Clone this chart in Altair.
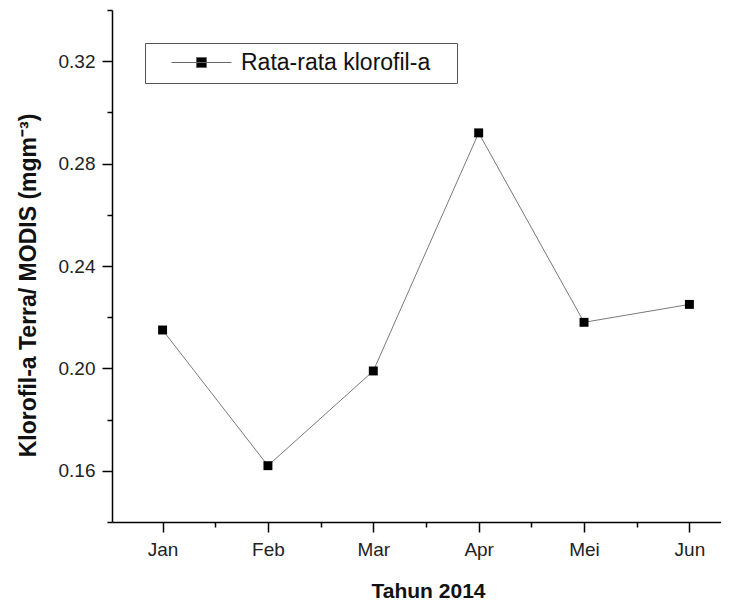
import altair as alt
import pandas as pd

months = ["Jan", "Feb", "Mar", "Apr", "Mei", "Jun"]
month_index = [1, 2, 3, 4, 5, 6]
klorofil = [0.215, 0.162, 0.199, 0.292, 0.218, 0.225]
series_name = "Rata-rata klorofil-a"
y_ticks = [0.14, 0.16, 0.18, 0.20, 0.22, 0.24, 0.26, 0.28, 0.30, 0.32, 0.34]
x_ticks = [0.5, 1, 1.5, 2, 2.5, 3, 3.5, 4, 4.5, 5, 5.5, 6]

df = pd.DataFrame({
    "idx": month_index,
    "bulan": months,
    "klorofil": klorofil,
    "seri": [series_name] * len(months),
})

month_arr = "[" + ",".join("'" + m + "'" for m in months) + "]"
x_label_expr = f"datum.value % 1 === 0 ? {month_arr}[datum.value - 1] : ''"
y_major = "round(datum.value * 100) % 4 === 0"
y_label_expr = f"{y_major} ? format(datum.value, '.2f') : ''"

FONT = "Liberation Sans"

x_enc = alt.X(
    "idx:Q",
    scale=alt.Scale(domain=[0.52, 6.3], nice=False, zero=False),
    axis=alt.Axis(
        title="Tahun 2014",
        values=x_ticks,
        labelExpr=x_label_expr,
        tickSize={"condition": {"test": "datum.value % 1 === 0", "value": 10}, "value": 5},
        labelPadding=8,
        titleX=316,
        titleY=75,
        titleBaseline="alphabetic",
        titleFontSize=21,
        labelFlush=False,
    ),
)
y_enc = alt.Y(
    "klorofil:Q",
    scale=alt.Scale(domain=[0.14, 0.34], nice=False, zero=False),
    axis=alt.Axis(
        title="Klorofil-a Terra/ MODIS (mgm⁻³)",
        values=y_ticks,
        labelExpr=y_label_expr,
        tickSize={"condition": {"test": y_major, "value": 10}, "value": 5},
        labelPadding=7,
        titleX=-77,
        titleY=275,
        titleBaseline="alphabetic",
        titleFontSize=23,
        labelFlush=False,
    ),
)

line = alt.Chart(df).mark_line(color="#7a7a7a", strokeWidth=1).encode(x=x_enc, y=y_enc)

points = alt.Chart(df).mark_point(shape="square", filled=True, size=80, opacity=1).encode(
    x=x_enc,
    y=y_enc,
    color=alt.Color(
        "seri:N",
        scale=alt.Scale(range=["#000000"]),
        legend=alt.Legend(
            title=None,
            orient="none",
            legendX=33,
            legendY=33,
            padding=8,
            symbolType="M-6,0L6,0M-1,-1L1,-1L1,1L-1,1ZM49,0",
            symbolSize=100,
            symbolOffset=37,
            labelOffset=28,
            symbolStrokeColor="#666666",
            symbolStrokeWidth=1,
            symbolFillColor="#000000",
            labelFont=FONT,
            labelFontSize=23,
            labelColor="#111111",
            labelLimit=500,
            strokeColor="#555555",
            fillColor="#ffffff",
        ),
    ),
)

chart = (
    alt.layer(line, points)
    .properties(
        width=609,
        height=512,
        autosize=alt.AutoSizeParams(type="none"),
        padding={"left": 104, "top": 2, "right": 0, "bottom": 80},
    )
    .configure_view(stroke=None)
    .configure_axis(
        grid=False,
        domainColor="#000000",
        domainWidth=1.5,
        tickColor="#000000",
        tickWidth=1.5,
        labelFont=FONT,
        labelFontSize=19,
        labelColor="#222222",
        titleFont=FONT,
        titleFontWeight="bold",
        titleColor="#111111",
    )
)

chart.save("out.html", embed_options={"renderer": "svg", "actions": False})
